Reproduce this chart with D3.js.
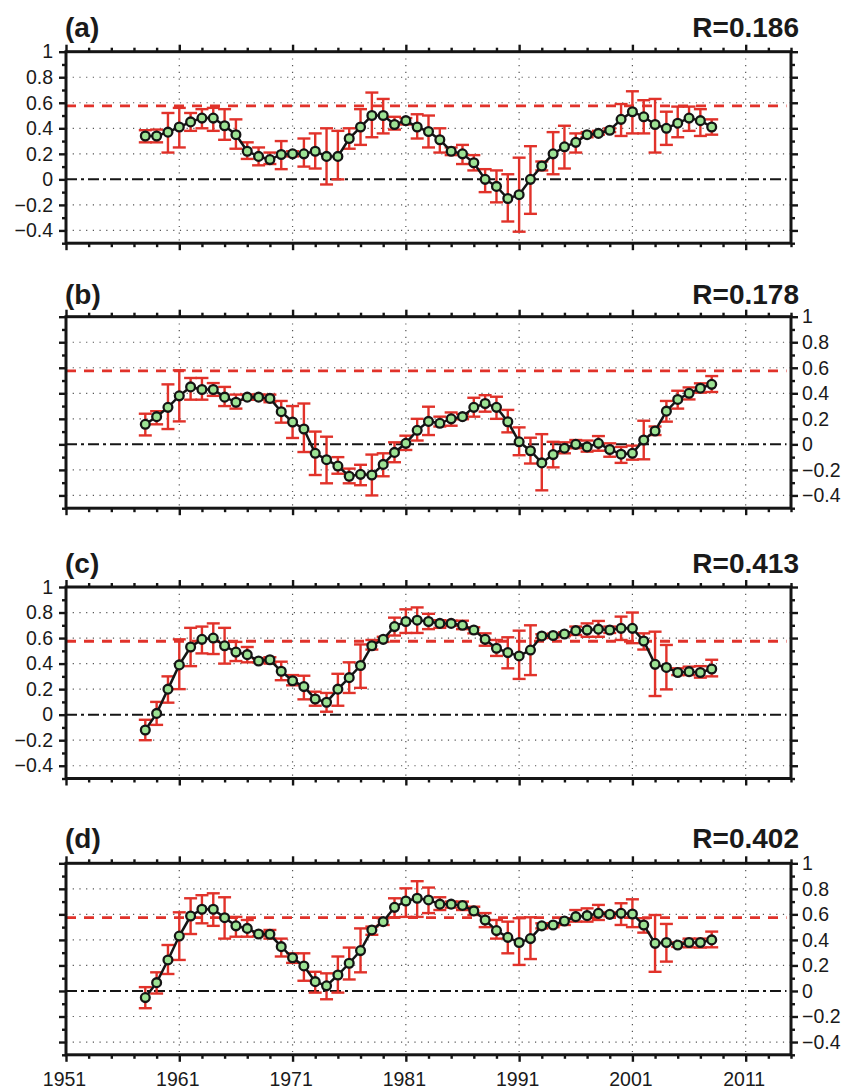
<!DOCTYPE html>
<html>
<head>
<meta charset="utf-8">
<script src="https://cdn.jsdelivr.net/npm/d3@7/dist/d3.min.js"></script>
<style>
  body { margin: 0; background: #fff; }
  svg { display: block; }
  text { font-family: "Liberation Sans", Arial, Helvetica, sans-serif; fill: #1a1a1a; }
</style>
</head>
<body>
<svg id="chart" width="858" height="1090"></svg>
<script>
// ---- data ----
const years = [1958,1959,1960,1961,1962,1963,1964,1965,1966,1967,1968,1969,1970,1971,1972,1973,1974,1975,1976,1977,1978,1979,1980,1981,1982,1983,1984,1985,1986,1987,1988,1989,1990,1991,1992,1993,1994,1995,1996,1997,1998,1999,2000,2001,2002,2003,2004,2005,2006,2007,2008];

const panelLabels = ["(a)", "(b)", "(c)", "(d)"];
const corrLabels = ["R=0.186", "R=0.178", "R=0.413", "R=0.402"];
const threshold = 0.575;

const valuesA = [0.34,0.34,0.37,0.41,0.45,0.48,0.48,0.42,0.35,0.22,0.18,0.155,0.195,0.20,0.20,0.22,0.18,0.18,0.32,0.41,0.50,0.50,0.43,0.46,0.41,0.375,0.31,0.22,0.20,0.13,0.0,-0.055,-0.15,-0.12,0.0,0.105,0.20,0.255,0.29,0.35,0.36,0.385,0.47,0.53,0.49,0.43,0.40,0.44,0.48,0.46,0.41];
const lowerA  = [0.29,0.29,0.21,0.25,0.38,0.40,0.38,0.31,0.24,0.16,0.11,0.12,0.08,0.18,0.10,0.085,-0.04,0.0,0.24,0.27,0.33,0.36,0.39,0.43,0.32,0.25,0.21,0.19,0.12,0.07,-0.10,-0.18,-0.33,-0.41,-0.27,0.07,0.04,0.085,0.21,0.33,0.35,0.37,0.34,0.36,0.36,0.21,0.27,0.33,0.38,0.34,0.35];
const upperA  = [0.385,0.39,0.52,0.56,0.52,0.55,0.56,0.55,0.47,0.29,0.25,0.21,0.30,0.22,0.32,0.36,0.40,0.38,0.40,0.55,0.68,0.63,0.49,0.48,0.51,0.50,0.40,0.25,0.27,0.19,0.08,0.07,0.04,0.17,0.26,0.14,0.37,0.42,0.36,0.37,0.38,0.40,0.59,0.69,0.62,0.63,0.53,0.57,0.57,0.55,0.47];

const valuesB = [0.157,0.217,0.29,0.38,0.45,0.43,0.43,0.37,0.33,0.37,0.37,0.36,0.256,0.175,0.12,-0.07,-0.12,-0.17,-0.25,-0.235,-0.24,-0.157,-0.063,0.008,0.11,0.18,0.165,0.20,0.217,0.29,0.32,0.29,0.177,0.02,-0.05,-0.145,-0.08,-0.03,0.0,-0.02,0.008,-0.04,-0.077,-0.07,0.034,0.105,0.26,0.352,0.40,0.44,0.47];
const lowerB  = [0.07,0.157,0.12,0.18,0.35,0.35,0.38,0.30,0.28,0.35,0.35,0.33,0.17,0.05,-0.06,-0.24,-0.305,-0.23,-0.305,-0.32,-0.40,-0.25,-0.14,-0.044,0.03,0.073,0.14,0.146,0.197,0.217,0.256,0.20,0.094,-0.085,-0.15,-0.36,-0.18,-0.07,-0.03,-0.057,-0.05,-0.097,-0.145,-0.12,-0.117,0.073,0.178,0.28,0.352,0.405,0.41];
const upperB  = [0.24,0.26,0.47,0.58,0.52,0.52,0.48,0.45,0.39,0.39,0.39,0.39,0.34,0.30,0.32,0.10,0.06,-0.10,-0.19,-0.16,-0.08,-0.07,0.016,0.068,0.20,0.295,0.217,0.25,0.237,0.365,0.385,0.373,0.27,0.133,0.052,0.08,0.02,0.016,0.034,0.03,0.065,0.008,-0.02,-0.01,0.185,0.14,0.34,0.42,0.446,0.478,0.535];

const valuesC = [-0.12,0.01,0.20,0.39,0.53,0.59,0.60,0.54,0.49,0.47,0.42,0.43,0.34,0.266,0.22,0.123,0.097,0.20,0.29,0.385,0.54,0.59,0.69,0.73,0.74,0.73,0.715,0.715,0.70,0.663,0.59,0.52,0.486,0.46,0.506,0.616,0.62,0.632,0.658,0.663,0.67,0.663,0.676,0.676,0.577,0.394,0.37,0.33,0.337,0.33,0.358];
const lowerC  = [-0.20,-0.08,0.094,0.20,0.38,0.48,0.475,0.40,0.42,0.41,0.41,0.40,0.27,0.23,0.12,0.07,0.023,0.07,0.17,0.21,0.51,0.57,0.62,0.64,0.64,0.67,0.68,0.695,0.67,0.637,0.54,0.46,0.363,0.28,0.31,0.60,0.605,0.615,0.624,0.61,0.61,0.64,0.585,0.56,0.51,0.146,0.198,0.31,0.31,0.29,0.30];
const upperC  = [-0.04,0.10,0.30,0.59,0.68,0.69,0.715,0.68,0.57,0.53,0.44,0.45,0.415,0.31,0.305,0.18,0.17,0.32,0.41,0.55,0.585,0.61,0.76,0.825,0.84,0.79,0.74,0.736,0.736,0.684,0.637,0.585,0.606,0.658,0.70,0.63,0.635,0.645,0.69,0.715,0.734,0.69,0.768,0.80,0.637,0.65,0.546,0.363,0.376,0.38,0.43];

const valuesD = [-0.052,0.065,0.243,0.43,0.587,0.64,0.64,0.574,0.51,0.49,0.446,0.444,0.347,0.26,0.196,0.073,0.04,0.125,0.217,0.316,0.478,0.543,0.655,0.705,0.726,0.713,0.68,0.68,0.67,0.627,0.556,0.473,0.42,0.38,0.41,0.51,0.517,0.548,0.582,0.59,0.608,0.60,0.608,0.603,0.517,0.373,0.38,0.36,0.38,0.38,0.40];
const lowerD  = [-0.135,-0.02,0.133,0.243,0.446,0.53,0.51,0.41,0.425,0.425,0.43,0.41,0.27,0.22,0.08,-0.013,-0.065,-0.013,0.09,0.146,0.44,0.517,0.577,0.58,0.58,0.61,0.634,0.653,0.634,0.595,0.50,0.41,0.295,0.204,0.25,0.49,0.50,0.517,0.543,0.543,0.556,0.585,0.517,0.50,0.457,0.15,0.23,0.345,0.342,0.34,0.342];
const upperD  = [0.03,0.146,0.36,0.616,0.726,0.75,0.765,0.734,0.58,0.556,0.46,0.478,0.41,0.295,0.295,0.15,0.138,0.27,0.34,0.49,0.504,0.57,0.726,0.804,0.86,0.81,0.734,0.70,0.70,0.66,0.61,0.556,0.543,0.57,0.577,0.53,0.53,0.57,0.634,0.647,0.674,0.615,0.687,0.718,0.57,0.595,0.525,0.38,0.41,0.41,0.465];

const xMajorTicks = [1951,1961,1971,1981,1991,2001,2011];
const xMinorTicks = [1953,1955,1957,1959,1963,1965,1967,1969,1973,1975,1977,1979,1983,1985,1987,1989,1993,1995,1997,1999,2003,2005,2007,2009,2013,2015];
const yMajorTicks = [-0.4,-0.2,0,0.2,0.4,0.6,0.8,1];
const yMinorTicks = [-0.5,-0.3,-0.1,0.1,0.3,0.5,0.7,0.9];
const yGridValues = [-0.4,-0.2,0.2,0.4,0.6,0.8];

const series = [
  { values: valuesA, lower: lowerA, upper: upperA },
  { values: valuesB, lower: lowerB, upper: upperB },
  { values: valuesC, lower: lowerC, upper: upperC },
  { values: valuesD, lower: lowerD, upper: upperD }
];

// ---- layout ----
const plotLeft = 66, plotRight = 791, plotHeight = 191.5;
const panelTops = [51.7, 316.7, 587, 863.3];
const titleBaselines = [36.5, 303.5, 572.5, 848];
const labelSides = ["left", "right", "left", "right"];

const RED = "#e1322a";
const INK = "#151515";
const GREEN = "#9de394";

const svg = d3.select("#chart");
const x = d3.scaleLinear().domain([1951, 2015]).range([plotLeft, plotRight]);

series.forEach((s, p) => {
  const top = panelTops[p];
  const y = d3.scaleLinear().domain([-0.5, 1]).range([top + plotHeight, top]);
  const g = svg.append("g").attr("class", "panel");

  // dotted grid
  g.selectAll(".hgrid").data(yGridValues).join("line")
    .attr("x1", x(1951)).attr("x2", x(2015))
    .attr("y1", d => y(d)).attr("y2", d => y(d))
    .attr("stroke", "#555").attr("stroke-width", 1.2)
    .attr("stroke-dasharray", "1.2,5.5");
  g.selectAll(".vgrid").data(xMajorTicks.slice(1)).join("line")
    .attr("x1", d => x(d)).attr("x2", d => x(d))
    .attr("y1", y(1)).attr("y2", y(-0.5))
    .attr("stroke", "#555").attr("stroke-width", 1.2)
    .attr("stroke-dasharray", "1.2,5.5");

  // zero line (dash-dot)
  g.append("line")
    .attr("x1", x(1951)).attr("x2", x(2014.6))
    .attr("y1", y(0)).attr("y2", y(0))
    .attr("stroke", INK).attr("stroke-width", 2)
    .attr("stroke-dasharray", "11,4,3,4");

  // significance threshold
  g.append("line")
    .attr("x1", x(1951)).attr("x2", x(2014.6))
    .attr("y1", y(threshold)).attr("y2", y(threshold))
    .attr("stroke", RED).attr("stroke-width", 2.8)
    .attr("stroke-dasharray", "10,8");

  // error bars
  const bars = g.selectAll(".err").data(years).join("g");
  bars.append("line")
    .attr("x1", d => x(d)).attr("x2", d => x(d))
    .attr("y1", (d, i) => y(s.lower[i])).attr("y2", (d, i) => y(s.upper[i]))
    .attr("stroke", RED).attr("stroke-width", 2.4);
  bars.append("line")
    .attr("x1", d => x(d) - 6.5).attr("x2", d => x(d) + 6.5)
    .attr("y1", (d, i) => y(s.lower[i])).attr("y2", (d, i) => y(s.lower[i]))
    .attr("stroke", RED).attr("stroke-width", 2.4);
  bars.append("line")
    .attr("x1", d => x(d) - 6.5).attr("x2", d => x(d) + 6.5)
    .attr("y1", (d, i) => y(s.upper[i])).attr("y2", (d, i) => y(s.upper[i]))
    .attr("stroke", RED).attr("stroke-width", 2.4);

  // series line + markers
  const line = d3.line().x((d, i) => x(years[i])).y(d => y(d));
  g.append("path").datum(s.values)
    .attr("d", line).attr("fill", "none")
    .attr("stroke", INK).attr("stroke-width", 2.5);
  g.selectAll(".pt").data(s.values).join("circle")
    .attr("cx", (d, i) => x(years[i])).attr("cy", d => y(d))
    .attr("r", 4.4).attr("fill", GREEN)
    .attr("stroke", INK).attr("stroke-width", 2.3);

  // frame
  g.append("rect")
    .attr("x", plotLeft).attr("y", top)
    .attr("width", plotRight - plotLeft).attr("height", plotHeight)
    .attr("fill", "none").attr("stroke", INK).attr("stroke-width", 3);

  // ticks on all four sides (outward)
  const styleAxis = sel => {
    sel.select(".domain").remove();
    sel.selectAll(".tick line").attr("stroke", INK).attr("stroke-width", 2.4);
  };
  const addX = (axisFn, ty, showLabels) => {
    g.append("g").attr("transform", `translate(0,${ty})`)
      .call(axisFn(x).tickValues(xMinorTicks).tickSize(4).tickFormat(""))
      .call(styleAxis);
    const maj = g.append("g").attr("transform", `translate(0,${ty})`)
      .call(axisFn(x).tickValues(xMajorTicks).tickSize(7).tickFormat(showLabels ? d3.format("d") : ""))
      .call(styleAxis);
    maj.selectAll("text").attr("font-size", 19.5).attr("fill", "#1a1a1a")
      .attr("font-family", null).attr("dy", 0).attr("y", 31).attr("dx", -2);
  };
  addX(d3.axisTop, top, false);
  addX(d3.axisBottom, top + plotHeight, p === 3);

  const fmt = d => d === 0 ? "0" : (d < 0 ? "\u2212" + d3.format("")(Math.abs(d)) : d3.format("")(d));
  const addY = (axisFn, tx, showLabels) => {
    g.append("g").attr("transform", `translate(${tx},0)`)
      .call(axisFn(y).tickValues(yMinorTicks).tickSize(4).tickFormat(""))
      .call(styleAxis);
    const maj = g.append("g").attr("transform", `translate(${tx},0)`)
      .call(axisFn(y).tickValues(yMajorTicks).tickSize(7).tickPadding(showLabels ? (axisFn === d3.axisLeft ? 6 : 4) : 3)
        .tickFormat(showLabels ? fmt : ""))
      .call(styleAxis);
    maj.selectAll("text").attr("font-size", 19.5).attr("fill", "#1a1a1a").attr("font-family", null);
  };
  addY(d3.axisLeft, plotLeft, labelSides[p] === "left");
  addY(d3.axisRight, plotRight, labelSides[p] === "right");

  // panel titles
  svg.append("text").attr("x", 65).attr("y", titleBaselines[p])
    .attr("font-size", 28).attr("font-weight", "bold").text(panelLabels[p]);
  svg.append("text").attr("x", 799).attr("y", titleBaselines[p])
    .attr("text-anchor", "end")
    .attr("font-size", 28).attr("font-weight", "bold").text(corrLabels[p]);
});
</script>
</body>
</html>
